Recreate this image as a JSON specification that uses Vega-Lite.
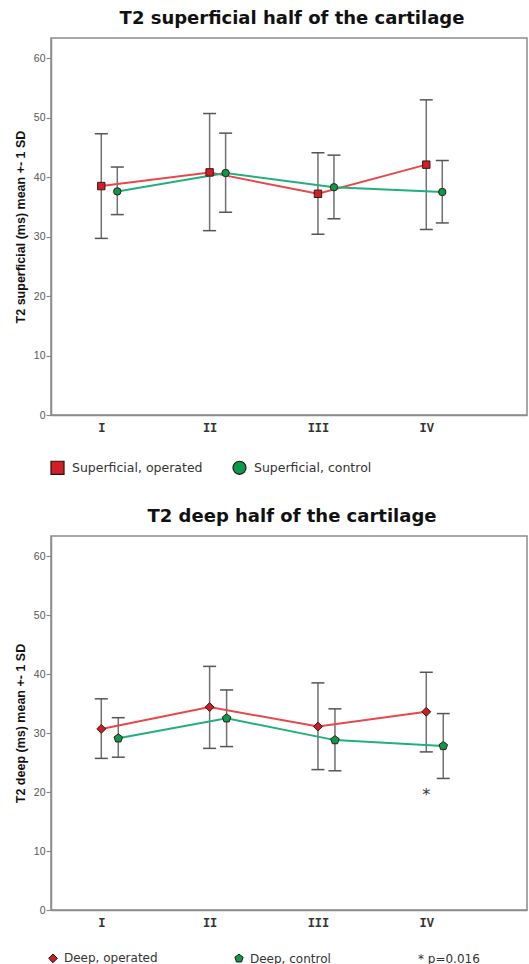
{
  "$schema": "https://vega.github.io/schema/vega-lite/v6.json",
  "background": "white",
  "padding": {"left": 13, "top": 9, "right": 3, "bottom": 0},
  "datasets": {
    "sup": [
      {"cat": "I", "group": "Superficial, operated", "mean": 38.5, "lo": 29.7, "hi": 47.3},
      {"cat": "I", "group": "Superficial, control", "mean": 37.6, "lo": 33.7, "hi": 41.7},
      {"cat": "II", "group": "Superficial, operated", "mean": 40.8, "lo": 31.0, "hi": 50.7},
      {"cat": "II", "group": "Superficial, control", "mean": 40.7, "lo": 34.1, "hi": 47.4},
      {"cat": "III", "group": "Superficial, operated", "mean": 37.2, "lo": 30.4, "hi": 44.1},
      {"cat": "III", "group": "Superficial, control", "mean": 38.3, "lo": 33.0, "hi": 43.7},
      {"cat": "IV", "group": "Superficial, operated", "mean": 42.1, "lo": 31.2, "hi": 53.0},
      {"cat": "IV", "group": "Superficial, control", "mean": 37.5, "lo": 32.3, "hi": 42.8}
    ],
    "deep": [
      {"cat": "I", "group": "Deep, operated", "mean": 30.7, "lo": 25.7, "hi": 35.8},
      {"cat": "I", "group": "Deep, control", "mean": 29.1, "lo": 25.9, "hi": 32.6},
      {"cat": "II", "group": "Deep, operated", "mean": 34.4, "lo": 27.4, "hi": 41.3},
      {"cat": "II", "group": "Deep, control", "mean": 32.5, "lo": 27.7, "hi": 37.3},
      {"cat": "III", "group": "Deep, operated", "mean": 31.1, "lo": 23.8, "hi": 38.5},
      {"cat": "III", "group": "Deep, control", "mean": 28.8, "lo": 23.6, "hi": 34.1},
      {"cat": "IV", "group": "Deep, operated", "mean": 33.6, "lo": 26.8, "hi": 40.3},
      {"cat": "IV", "group": "Deep, control", "mean": 27.8, "lo": 22.3, "hi": 33.3}
    ],
    "sig": [
      {"cat": "IV", "group": "Deep, operated", "y": 20.1, "label": "*"}
    ]
  },
  "config": {
    "font": "DejaVu Sans",
    "view": {"stroke": "#8c8c8c", "strokeWidth": 1.5},
    "title": {"font": "DejaVu Sans", "fontSize": 18, "fontWeight": "bold", "color": "#111111", "anchor": "middle", "offset": 10, "dx": 3},
    "axis": {"grid": false, "domainColor": "#8c8c8c", "domainWidth": 1.5, "tickColor": "#8c8c8c", "tickWidth": 1.2},
    "axisY": {"tickSize": 5, "labelPadding": 1, "labelFont": "Liberation Sans", "labelFontSize": 10.5, "labelColor": "#555555", "titleFont": "Liberation Sans", "titleFontSize": 12.5, "titleFontWeight": "bold", "titleColor": "#111111", "titlePadding": 6},
    "axisX": {"ticks": false, "labelFont": "Liberation Mono", "labelFontWeight": "bold", "labelFontSize": 12, "labelColor": "#333333", "labelPadding": 7, "labelAngle": 0, "title": null},
    "legend": {"orient": "bottom", "direction": "horizontal", "title": null, "labelFont": "DejaVu Sans", "labelColor": "#333333", "symbolStrokeColor": "#3a1a1a", "symbolStrokeWidth": 1, "symbolOpacity": 1, "padding": 0}
  },
  "spacing": 29,
  "resolve": {
    "scale": {"x": "independent", "y": "independent", "xOffset": "independent", "stroke": "independent", "fill": "independent", "shape": "independent"},
    "legend": {"fill": "independent", "shape": "independent"}
  },
  "vconcat": [
    {
      "title": "T2 superficial half of the cartilage",
      "width": 476,
      "height": 377,
      "data": {"name": "sup"},
      "encoding": {
        "x": {"field": "cat", "type": "ordinal", "scale": {"type": "point", "domain": ["I", "II", "III", "IV"], "padding": 0.697, "align": 0.333}},
        "xOffset": {"field": "group", "type": "nominal", "scale": {"type": "point", "domain": ["Superficial, operated", "Superficial, control"], "range": [0, 16], "padding": 0}}
      },
      "layer": [
        {
          "mark": {"type": "rule", "color": "#707070", "strokeWidth": 1.5},
          "encoding": {
            "y": {"field": "lo", "type": "quantitative", "title": "T2 superficial (ms) mean +- 1 SD", "scale": {"domain": [0, 63.4], "nice": false, "zero": true}, "axis": {"values": [0, 10, 20, 30, 40, 50, 60]}},
            "y2": {"field": "hi"}
          }
        },
        {
          "mark": {"type": "tick", "color": "#555555", "thickness": 1.5, "size": 13, "orient": "horizontal", "opacity": 1},
          "encoding": {"y": {"field": "lo", "type": "quantitative", "title": "T2 superficial (ms) mean +- 1 SD"}}
        },
        {
          "mark": {"type": "tick", "color": "#555555", "thickness": 1.5, "size": 13, "orient": "horizontal", "opacity": 1},
          "encoding": {"y": {"field": "hi", "type": "quantitative", "title": "T2 superficial (ms) mean +- 1 SD"}}
        },
        {
          "mark": {"type": "line", "strokeWidth": 2},
          "encoding": {
            "y": {"field": "mean", "type": "quantitative", "title": "T2 superficial (ms) mean +- 1 SD"},
            "stroke": {"field": "group", "type": "nominal", "scale": {"domain": ["Superficial, control", "Superficial, operated"], "range": ["#22b07a", "#e8474c"]}, "legend": null}
          }
        },
        {
          "mark": {"type": "point", "filled": true, "stroke": "#3a1a1a", "strokeWidth": 1, "opacity": 1, "size": 55},
          "encoding": {
            "y": {"field": "mean", "type": "quantitative", "title": "T2 superficial (ms) mean +- 1 SD"},
            "fill": {"field": "group", "type": "nominal", "scale": {"domain": ["Superficial, operated", "Superficial, control"], "range": ["#d01f26", "#0b9a4c"]}, "legend": {"columns": 2, "columnPadding": 27, "symbolSize": 170, "symbolOffset": -1, "labelOffset": 7, "labelFontSize": 12.5, "offset": 27, "encode": {"symbols": {"update": {"stroke": {"value": "#2a1010"}, "strokeWidth": {"value": 1.2}}}}}},
            "shape": {"field": "group", "type": "nominal", "scale": {"domain": ["Superficial, operated", "Superficial, control"], "range": ["square", "circle"]}, "legend": {"columns": 2, "columnPadding": 27, "symbolSize": 170, "symbolOffset": -1, "labelOffset": 7, "labelFontSize": 12.5, "offset": 27, "encode": {"symbols": {"update": {"stroke": {"value": "#2a1010"}, "strokeWidth": {"value": 1.2}}}}}}
          }
        }
      ]
    },
    {
      "title": "T2 deep half of the cartilage",
      "width": 476,
      "height": 374,
      "data": {"name": "deep"},
      "encoding": {
        "x": {"field": "cat", "type": "ordinal", "scale": {"type": "point", "domain": ["I", "II", "III", "IV"], "padding": 0.697, "align": 0.333}},
        "xOffset": {"field": "group", "type": "nominal", "scale": {"type": "point", "domain": ["Deep, operated", "Deep, control"], "range": [0, 17], "padding": 0}}
      },
      "layer": [
        {
          "mark": {"type": "rule", "color": "#707070", "strokeWidth": 1.5},
          "encoding": {
            "y": {"field": "lo", "type": "quantitative", "title": "T2 deep (ms) mean +- 1 SD", "scale": {"domain": [0, 63.4], "nice": false, "zero": true}, "axis": {"values": [0, 10, 20, 30, 40, 50, 60]}},
            "y2": {"field": "hi"}
          }
        },
        {
          "mark": {"type": "tick", "color": "#555555", "thickness": 1.5, "size": 13, "orient": "horizontal", "opacity": 1},
          "encoding": {"y": {"field": "lo", "type": "quantitative", "title": "T2 deep (ms) mean +- 1 SD"}}
        },
        {
          "mark": {"type": "tick", "color": "#555555", "thickness": 1.5, "size": 13, "orient": "horizontal", "opacity": 1},
          "encoding": {"y": {"field": "hi", "type": "quantitative", "title": "T2 deep (ms) mean +- 1 SD"}}
        },
        {
          "mark": {"type": "line", "strokeWidth": 2},
          "encoding": {
            "y": {"field": "mean", "type": "quantitative", "title": "T2 deep (ms) mean +- 1 SD"},
            "stroke": {"field": "group", "type": "nominal", "scale": {"domain": ["Deep, control", "Deep, operated"], "range": ["#22b07a", "#e8474c"]}, "legend": null}
          }
        },
        {
          "mark": {"type": "point", "filled": true, "stroke": "#3a1a1a", "strokeWidth": 1, "opacity": 1, "size": 80},
          "encoding": {
            "y": {"field": "mean", "type": "quantitative", "title": "T2 deep (ms) mean +- 1 SD"},
            "fill": {"field": "group", "type": "nominal", "scale": {"domain": ["Deep, operated", "Deep, control", "* p=0.016"], "range": ["#c81e24", "#0b9a4c", "transparent"]}, "legend": {"columns": 3, "columnPadding": 74, "symbolSize": 75, "symbolOffset": -4, "labelOffset": 5, "labelFontSize": 12, "offset": 24, "encode": {"symbols": {"update": {"stroke": {"value": "#2a1010"}, "strokeWidth": {"value": 1}}}}}},
            "shape": {"field": "group", "type": "nominal", "scale": {"domain": ["Deep, operated", "Deep, control", "* p=0.016"], "range": ["diamond", "M0,-1L0.951,-0.309L0.588,0.809L-0.588,0.809L-0.951,-0.309Z", "M0,0Z"]}, "legend": {"columns": 3, "columnPadding": 74, "symbolSize": 75, "symbolOffset": -4, "labelOffset": 5, "labelFontSize": 12, "offset": 24, "encode": {"symbols": {"update": {"stroke": {"value": "#2a1010"}, "strokeWidth": {"value": 1}}}}}}
          }
        },
        {
          "data": {"name": "sig"},
          "mark": {"type": "text", "fontSize": 16, "color": "#333333", "baseline": "middle", "dy": 4},
          "encoding": {
            "y": {"field": "y", "type": "quantitative", "title": "T2 deep (ms) mean +- 1 SD"},
            "text": {"field": "label"}
          }
        }
      ]
    }
  ]
}
